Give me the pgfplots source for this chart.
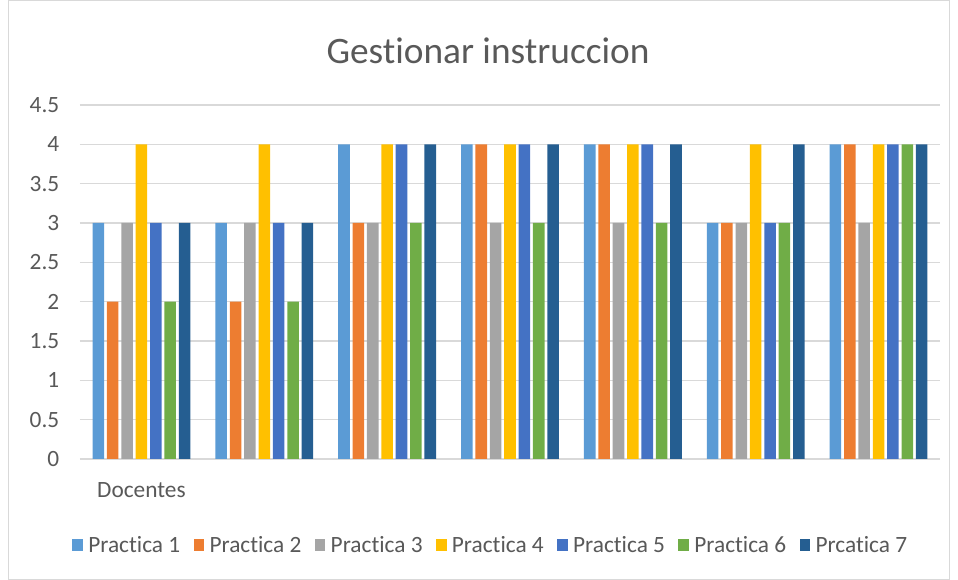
\documentclass[border=0pt]{standalone}
\usepackage{fontspec}
\setmainfont{Carlito}[Ligatures=NoCommon]
\usepackage{pgfplots}
\pgfplotsset{compat=1.18}
\definecolor{txtgray}{HTML}{595959}
\definecolor{gridgray}{HTML}{D9D9D9}
\definecolor{pA}{HTML}{5B9BD5}
\definecolor{pB}{HTML}{ED7D31}
\definecolor{pC}{HTML}{A5A5A5}
\definecolor{pD}{HTML}{FFC000}
\definecolor{pE}{HTML}{4472C4}
\definecolor{pF}{HTML}{70AD47}
\definecolor{pG}{HTML}{255E91}

\begin{document}
\begin{tikzpicture}
\useasboundingbox (0,0) rectangle (718.5pt,435pt);
\draw[gridgray] (6pt,0.5pt) rectangle (712pt,434.5pt);
\node[txtgray, font=\fontsize{28}{32}\selectfont] at (366pt,397pt) {Gestionar instruccion};
\begin{axis}[
    at={(60pt,90.75pt)}, anchor=south west,
    scale only axis, width=645pt, height=265.5pt,
    ybar, bar width=0.094,
    xmin=-0.5, xmax=6.5, ymin=0, ymax=4.5,
    xtick={0}, xticklabels={Docentes},
    ytick={0,0.5,...,4.5},
    major tick length=0pt,
    axis line style={draw=none},
    ymajorgrids, grid style={gridgray, line width=1pt},
    tick label style={txtgray, font=\fontsize{17.5}{20}\selectfont},
    /pgf/number format/assume math mode=true,
    yticklabel style={xshift=-12pt},
    xticklabel style={yshift=-14pt},
    legend style={at={(0.478,-0.243)}, anchor=center, draw=none,
        font=\fontsize{17.5}{20}\selectfont, text=txtgray, column sep=2pt,
        /tikz/every even column/.append style={column sep=8pt}},
    legend columns=-1,
    legend image code/.code={\fill[#1] (0pt,-4.5pt) rectangle (8pt,4.5pt);},
]
\addplot[fill=pA, draw=none, bar shift=-0.351] coordinates {(0,3) (1,3) (2,4) (3,4) (4,4) (5,3) (6,4)};
\addlegendentry{Practica 1}
\addplot[fill=pB, draw=none, bar shift=-0.234] coordinates {(0,2) (1,2) (2,3) (3,4) (4,4) (5,3) (6,4)};
\addlegendentry{Practica 2}
\addplot[fill=pC, draw=none, bar shift=-0.117] coordinates {(0,3) (1,3) (2,3) (3,3) (4,3) (5,3) (6,3)};
\addlegendentry{Practica 3}
\addplot[fill=pD, draw=none, bar shift=0] coordinates {(0,4) (1,4) (2,4) (3,4) (4,4) (5,4) (6,4)};
\addlegendentry{Practica 4}
\addplot[fill=pE, draw=none, bar shift=0.117] coordinates {(0,3) (1,3) (2,4) (3,4) (4,4) (5,3) (6,4)};
\addlegendentry{Practica 5}
\addplot[fill=pF, draw=none, bar shift=0.234] coordinates {(0,2) (1,2) (2,3) (3,3) (4,3) (5,3) (6,4)};
\addlegendentry{Practica 6}
\addplot[fill=pG, draw=none, bar shift=0.351] coordinates {(0,3) (1,3) (2,4) (3,4) (4,4) (5,4) (6,4)};
\addlegendentry{Prcatica 7}
\end{axis}
\end{tikzpicture}
\end{document}
